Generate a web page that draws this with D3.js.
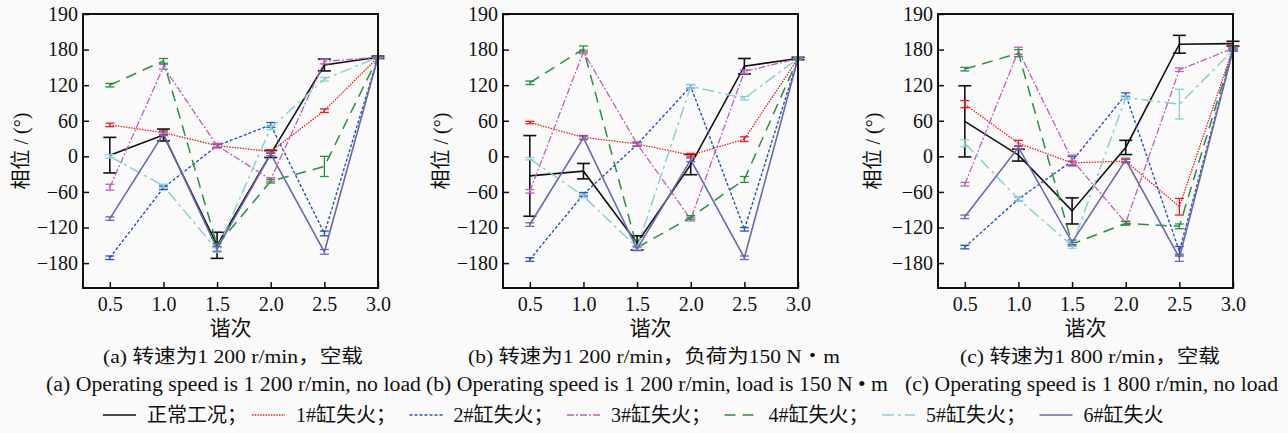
<!DOCTYPE html>
<html>
<head>
<meta charset="utf-8">
<script src="https://cdn.jsdelivr.net/npm/d3@7"></script>
<style>
body{margin:0;background:#fafafa;}
text{font-family:"Liberation Serif","Noto Sans CJK SC",serif;fill:#111;}
</style>
</head>
<body>
<div id="chart"></div>
<script>
// harmonic order on the x axis
var harmonics = [0.5, 1.0, 1.5, 2.0, 2.5, 3.0]
var xTicks = [0.5, 1.0, 1.5, 2.0, 2.5, 3.0]
var yTicks = [-180, -120, -60, 0, 60, 120, 180, 240]
var yTickLabels = ["-180", "-120", "-60", "0", "60", "120", "180", "190"]

var seriesNames = ["正常工况", "1#缸失火", "2#缸失火", "3#缸失火", "4#缸失火", "5#缸失火", "6#缸失火"]

// (a) 1200 r/min, no load
var phaseA = [
  [2, 36, -150, 4, 154, 167],
  [53, 40, 18, 8, 77, 167],
  [-171, -53, 18, 53, -130, 167],
  [-52, 151, 18, -39, 160, 167],
  [120, 161, -150, -42, -17, 167],
  [0, -50, -158, 48, 130, 167],
  [-105, 38, -156, 4, -161, 167]
]
var errA = [
  [30, 10, 22, 6, 10, 2],
  [3, 3, 3, 3, 3, 1],
  [3, 3, 3, 4, 4, 1],
  [5, 4, 4, 3, 4, 1],
  [3, 4, 3, 3, 17, 1],
  [3, 3, 4, 3, 3, 1],
  [3, 3, 4, 3, 4, 1]
]
// (b) 1200 r/min, 150 N*m
var phaseB = [
  [-33, -25, -146, -14, 152, 165],
  [57, 32, 21, 2, 29, 165],
  [-174, -64, 20, 118, -123, 165],
  [-59, 176, 21, -106, 143, 165],
  [124, 181, -154, -103, -39, 165],
  [-4, -67, -154, 118, 98, 165],
  [-115, 31, -156, -6, -171, 165]
]
var errB = [
  [68, 13, 12, 17, 13, 2],
  [2, 3, 3, 3, 4, 1],
  [3, 3, 3, 3, 3, 1],
  [3, 3, 3, 3, 3, 1],
  [3, 5, 3, 3, 5, 1],
  [2, 3, 3, 3, 3, 1],
  [3, 3, 3, 3, 3, 1]
]
// (c) 1800 r/min, no load
var phaseC = [
  [59, 2, -92, 15, 189, 190],
  [88, 22, -11, -8, -85, 182],
  [-153, -72, -8, 104, -160, 180],
  [-47, 178, -6, -112, 146, 182],
  [147, 174, -148, -113, -118, 180],
  [22, -72, -151, 99, 88, 179],
  [-102, 15, -145, -6, -171, 179]
]
var errC = [
  [60, 10, 22, 12, 15, 4],
  [6, 5, 3, 3, 14, 2],
  [3, 3, 8, 3, 8, 2],
  [3, 6, 8, 3, 3, 2],
  [3, 6, 3, 3, 4, 2],
  [6, 3, 4, 3, 25, 2],
  [3, 3, 4, 3, 6, 2]
]

var captionsCn = ["(a)  转速为1 200 r/min，空载", "(b)  转速为1 200 r/min，负荷为150 N・m", "(c)  转速为1 800 r/min，空载"]
var captionsEn = ["(a)  Operating speed is 1 200 r/min, no load", "(b)  Operating speed is 1 200 r/min, load is 150 N • m", "(c)  Operating speed is 1 800 r/min, no load"]

var colors = ["#111111", "#ee1c1c", "#2850c0", "#c060b8", "#2a9040", "#86d2d4", "#6a66b4"]
var dashes = ["none", "1.5,1.2", "3,2", "7,2,2,2", "11,7", "12,4,3,4", "none"]
var widths = [1.6, 1.3, 1.4, 1.3, 1.5, 1.5, 1.6]

var svg = d3.select('#chart').append('svg')
  .attr('width', 1288)
  .attr('height', 433)

var panels = [
  {left: 83, mean: phaseA, err: errA, labelX: 21, cn: [103, 363], en: [46, 421]},
  {left: 503, mean: phaseB, err: errB, labelX: 441, cn: [468, 840], en: [426, 888]},
  {left: 938, mean: phaseC, err: errC, labelX: 873, cn: [960, 1220], en: [905, 1278]}
]
var plotTop = 14, plotBottom = 288, pw = 295

var y = d3.scaleLinear().domain([-222, 240]).range([plotBottom, plotTop])

panels.forEach(function(p, pi) {
  var x = d3.scaleLinear().domain([0.25, 3.0]).range([p.left, p.left + pw])
  var g = svg.append('g')

  var line = d3.line()
    .x(function(d, i) { return x(harmonics[i]) })
    .y(function(d) { return y(d) })

  p.mean.forEach(function(vals, si) {
    g.append('path')
      .attr('d', line(vals))
      .attr('fill', 'none')
      .attr('stroke', colors[si])
      .attr('stroke-width', widths[si])
      .attr('stroke-dasharray', dashes[si])

    var cap = si == 0 ? 6.5 : 4.5
    vals.forEach(function(v, i) {
      var e = p.err[si][i]
      var cx = x(harmonics[i])
      var eg = g.append('g').attr('stroke', colors[si]).attr('stroke-width', si == 0 ? 1.6 : 1.3)
      eg.append('line').attr('x1', cx).attr('x2', cx).attr('y1', y(v - e)).attr('y2', y(v + e))
      eg.append('line').attr('x1', cx - cap).attr('x2', cx + cap).attr('y1', y(v - e)).attr('y2', y(v - e))
      eg.append('line').attr('x1', cx - cap).attr('x2', cx + cap).attr('y1', y(v + e)).attr('y2', y(v + e))
    })
  })

  // axes with inward ticks
  var xAxis = g.append('g')
    .attr('transform', `translate(0,${plotBottom})`)
    .call(d3.axisBottom(x).tickValues(xTicks).tickSize(-6).tickPadding(9).tickFormat(d3.format('.1f')))
  var yAxis = g.append('g')
    .attr('transform', `translate(${p.left},0)`)
    .call(d3.axisLeft(y).tickValues(yTicks).tickSize(-6).tickPadding(5)
      .tickFormat(function(d, i) { return yTickLabels[i].replace('-', '\u2212') }))
  ;[xAxis, yAxis].forEach(function(a) {
    a.select('.domain').remove()
    a.selectAll('line').attr('stroke', '#111').attr('stroke-width', 1.5)
    a.selectAll('text').attr('font-size', 20).attr('font-family', 'Liberation Serif').attr('fill', '#111')
  })

  g.append('rect')
    .attr('x', p.left).attr('y', plotTop)
    .attr('width', pw).attr('height', plotBottom - plotTop)
    .attr('fill', 'none').attr('stroke', '#111').attr('stroke-width', 2)

  g.append('text')
    .attr('transform', `translate(${p.labelX + 7},${(plotTop + plotBottom) / 2}) rotate(-90)`)
    .attr('text-anchor', 'middle')
    .attr('font-size', 20)
    .text('相位 / (°)')

  g.append('text')
    .attr('x', p.left + pw / 2).attr('y', 335)
    .attr('text-anchor', 'middle')
    .attr('font-size', 21)
    .text('谐次')

  g.append('text')
    .attr('x', p.cn[0]).attr('y', 363)
    .attr('font-size', 19)
    .attr('textLength', p.cn[1] - p.cn[0]).attr('lengthAdjust', 'spacingAndGlyphs')
    .text(captionsCn[pi])

  g.append('text')
    .attr('x', p.en[0]).attr('y', 391)
    .attr('font-size', 20)
    .attr('textLength', p.en[1] - p.en[0]).attr('lengthAdjust', 'spacingAndGlyphs')
    .text(captionsEn[pi])
})

// legend
var legend = svg.append('g')
seriesNames.forEach(function(name, i) {
  var lx = i == 0 ? 103 : 252 + (i - 1) * 157.5
  legend.append('line')
    .attr('x1', lx).attr('x2', lx + 33)
    .attr('y1', 415).attr('y2', 415)
    .attr('stroke', colors[i])
    .attr('stroke-width', widths[i])
    .attr('stroke-dasharray', dashes[i])
  legend.append('text')
    .attr('x', lx + 44).attr('y', 422)
    .attr('font-size', 20)
    .text(name + (i < seriesNames.length - 1 ? '；' : ''))
})
</script>
</body>
</html>
